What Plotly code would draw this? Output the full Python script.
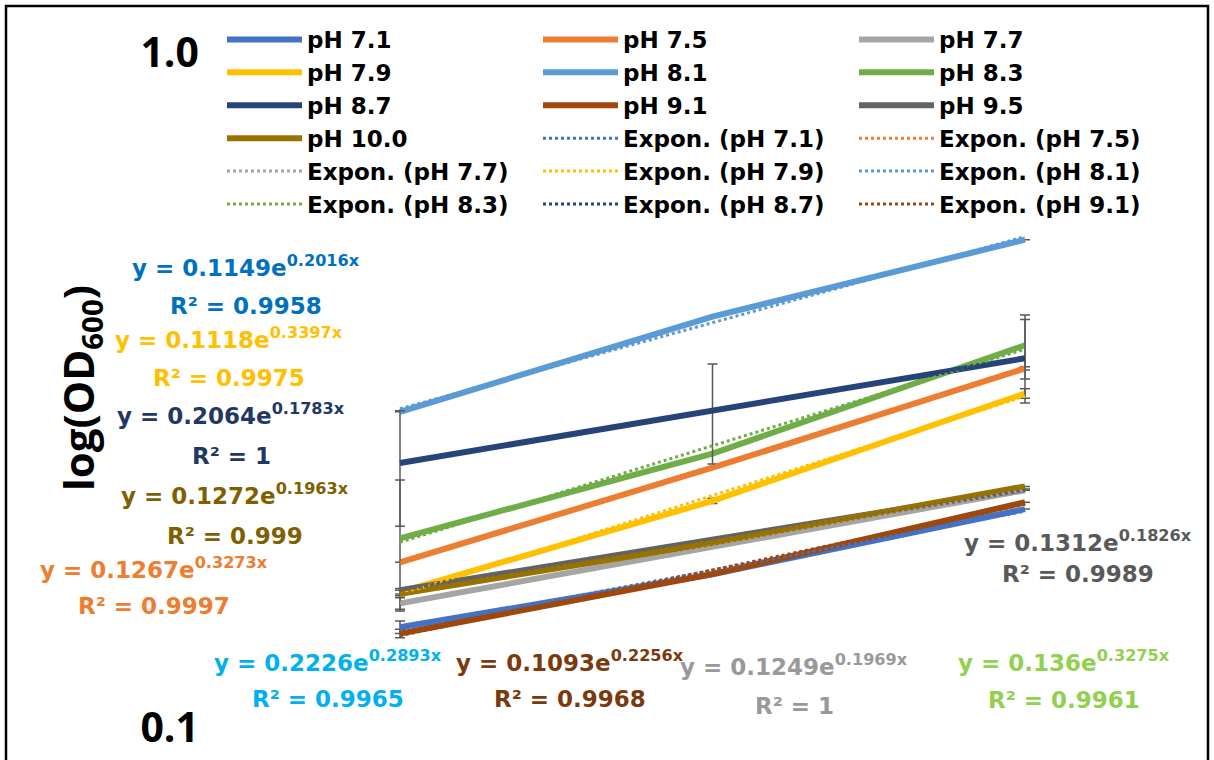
import numpy as np
import plotly.graph_objects as go

# ---------------- data ----------------
time_points = [1, 2, 3]

series_names = ["pH 7.1", "pH 7.5", "pH 7.7", "pH 7.9", "pH 8.1",
                "pH 8.3", "pH 8.7", "pH 9.1", "pH 9.5", "pH 10.0"]

od_ph71 = [0.141, 0.169, 0.211]
od_ph75 = [0.176, 0.243, 0.341]
od_ph77 = [0.153, 0.186, 0.225]
od_ph79 = [0.159, 0.217, 0.313]
od_ph81 = [0.294, 0.407, 0.529]
od_ph83 = [0.191, 0.255, 0.369]
od_ph87 = [0.247, 0.296, 0.353]
od_ph91 = [0.138, 0.169, 0.216]
od_ph95 = [0.160, 0.190, 0.226]
od_ph100 = [0.158, 0.188, 0.228]

err_ph71 = [0.003, 0.0, 0.0]
err_ph75 = [0.0, 0.0, 0.002]
err_ph77 = [0.003, 0.0, 0.0]
err_ph79 = [0.002, 0.002, 0.005]
err_ph81 = [0.0, 0.0, 0.0]
err_ph83 = [0.042, 0.0, 0.040]
err_ph87 = [0.048, 0.050, 0.050]
err_ph91 = [0.002, 0.0, 0.0]
err_ph95 = [0.0, 0.0, 0.0]
err_ph100 = [0.0, 0.0, 0.0]

trend_in_legend = [True, True, True, True, True, True, True, True, False, False]

eq_lines = ["y = 0.1149e<sup>0.2016x</sup>", "y = 0.1118e<sup>0.3397x</sup>",
            "y = 0.2064e<sup>0.1783x</sup>", "y = 0.1272e<sup>0.1963x</sup>",
            "y = 0.1267e<sup>0.3273x</sup>", "y = 0.2226e<sup>0.2893x</sup>",
            "y = 0.1093e<sup>0.2256x</sup>", "y = 0.1249e<sup>0.1969x</sup>",
            "y = 0.136e<sup>0.3275x</sup>", "y = 0.1312e<sup>0.1826x</sup>"]
r2_lines = ["R² = 0.9958", "R² = 0.9975", "R² = 1", "R² = 0.999", "R² = 0.9997",
            "R² = 0.9965", "R² = 0.9968", "R² = 1", "R² = 0.9961", "R² = 0.9989"]

y_tick_vals = [0.1, 1.0]
y_tick_text = ["0.1", "1.0"]

# ---------------- styles / positions ----------------
series_values = [od_ph71, od_ph75, od_ph77, od_ph79, od_ph81,
                 od_ph83, od_ph87, od_ph91, od_ph95, od_ph100]
series_errors = [err_ph71, err_ph75, err_ph77, err_ph79, err_ph81,
                 err_ph83, err_ph87, err_ph91, err_ph95, err_ph100]
line_colors = ["#4472C4", "#ED7D31", "#A5A5A5", "#FFC000", "#5B9BD5",
               "#70AD47", "#264478", "#9E480E", "#636363", "#997300"]
eq_colors = ["#0070C0", "#FFC000", "#1F3864", "#7F6000", "#ED7D31",
             "#00B0F0", "#7B3A0E", "#999999", "#92D050", "#595959"]
# pixel centres (x, y line 1, y line 2)
eq_pos = [(246, 266, 306), (229, 338, 378), (231, 414, 456), (235, 494, 536),
          (154, 568, 606), (328, 661, 699), (570, 661, 699), (794, 665, 706),
          (1064, 661, 700), (1078, 541, 574)]

W, H = 1214, 760
ML, MR, MT, MB = 210, 14, 53, 32
PW, PH = W - ML - MR, H - MT - MB


def px(x):
    return (x - ML) / PW


def py(y):
    return (H - MB - y) / PH


x_left = 1 - (400 - ML) / 312.5
x_right = x_left + PW / 312.5

fig = go.Figure()

for name, vals, errs, col in zip(series_names, series_values, series_errors, line_colors):
    fig.add_trace(go.Scatter(
        x=time_points, y=vals, mode="lines", name=name,
        line=dict(color=col, width=6),
        error_y=dict(type="data", array=errs, symmetric=True,
                     color="#595959", thickness=1.5, width=5),
    ))

xs = np.linspace(min(time_points), max(time_points), 41)
for name, vals, col, show in zip(series_names, series_values, line_colors, trend_in_legend):
    b, ln_a = np.polyfit(time_points, np.log(vals), 1)
    fig.add_trace(go.Scatter(
        x=xs, y=np.exp(ln_a) * np.exp(b * xs), mode="lines",
        name=f"Expon. ({name})", showlegend=show,
        line=dict(color=col, width=3, dash="dot"),
    ))

annotations = []
for t1, t2, col, (ax, ay1, ay2) in zip(eq_lines, r2_lines, eq_colors, eq_pos):
    for txt, yy in ((t1, ay1), (t2, ay2)):
        annotations.append(dict(
            text=txt, x=px(ax), y=py(yy), xref="paper", yref="paper",
            xanchor="center", yanchor="middle", showarrow=False,
            font=dict(family="DejaVu Sans", size=23, color=col, weight="bold"),
        ))

annotations.append(dict(
    text="log(OD<sub>600</sub>)", x=px(80), y=py(388), xref="paper", yref="paper",
    xanchor="center", yanchor="middle", showarrow=False, textangle=-90,
    font=dict(family="Open Sans", size=42, color="black", weight="bold"),
))

fig.update_layout(
    width=W, height=H,
    margin=dict(l=ML, r=MR, t=MT, b=MB, autoexpand=False),
    paper_bgcolor="white", plot_bgcolor="white",
    annotations=annotations,
    shapes=[dict(type="rect", xref="paper", yref="paper",
                 x0=px(6), x1=px(1208), y0=py(764), y1=py(6),
                 line=dict(color="black", width=2.5), fillcolor="rgba(0,0,0,0)", layer="above")],
    legend=dict(
        orientation="h", x=px(222), y=py(18), xanchor="left", yanchor="top",
        itemwidth=75, entrywidth=226, entrywidthmode="pixels",
        font=dict(family="DejaVu Sans", size=23, color="black", weight="bold"),
        bgcolor="rgba(0,0,0,0)", traceorder="normal",
    ),
    xaxis=dict(range=[x_left, x_right], showticklabels=False, showgrid=False,
               zeroline=False, showline=False, ticks=""),
    yaxis=dict(type="log", range=[-1, 0], tickvals=y_tick_vals, ticktext=y_tick_text,
               showgrid=False, zeroline=False, showline=False, ticks="",
               ticklabelstandoff=10,
               tickfont=dict(family="Open Sans", size=41, color="black", weight="bold")),
)

fig.write_html("out.html")
